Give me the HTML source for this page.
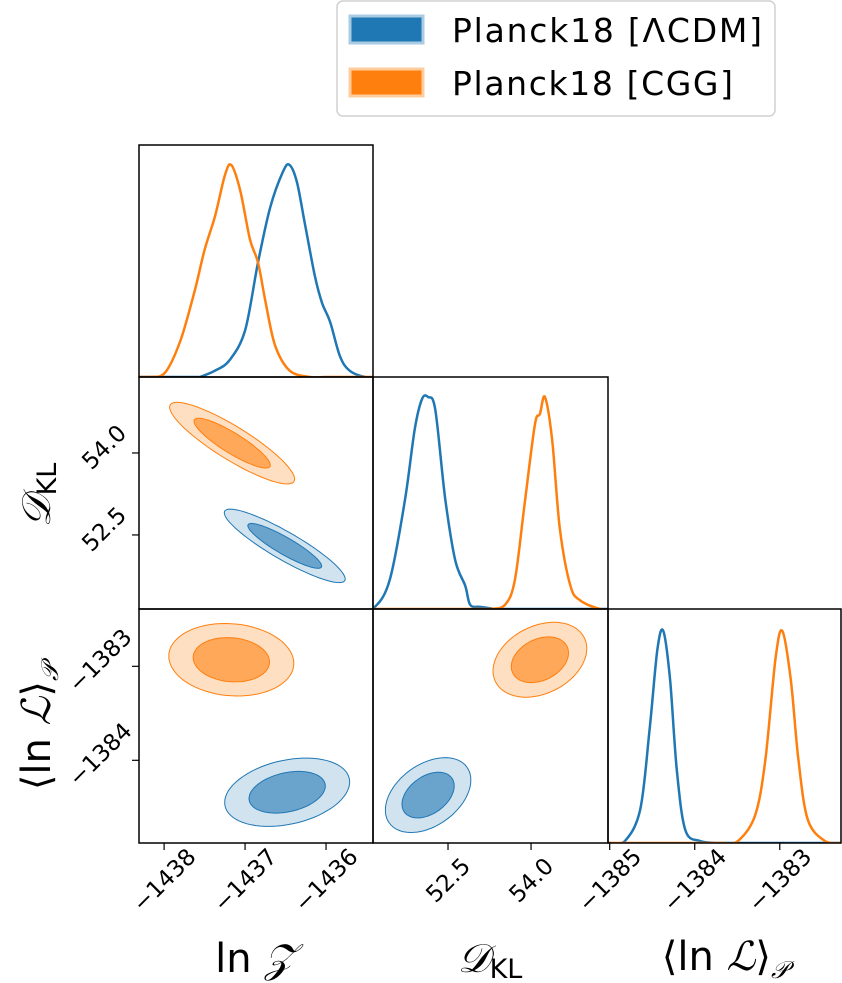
<!DOCTYPE html>
<html><head><meta charset="utf-8"><style>
html,body{margin:0;padding:0;background:#fff;}
svg{display:block;font-family:"DejaVu Sans","Liberation Sans",sans-serif;}
</style></head><body>
<svg id="fig" width="842" height="983" viewBox="0 0 842 983" xmlns="http://www.w3.org/2000/svg">
<defs>
<clipPath id="cp0"><rect x="139" y="145" width="234" height="232"/></clipPath>
<clipPath id="cp1"><rect x="373" y="377" width="235" height="232"/></clipPath>
<clipPath id="cp2"><rect x="608" y="609" width="233" height="234"/></clipPath>
</defs>
<g>
<rect x="337" y="1" width="438" height="115" rx="6" fill="#fff" stroke="#d0d0d0" stroke-width="1.5"/>
<rect x="350" y="16" width="73" height="27" fill="#1f77b4" stroke="#a9cbe4" stroke-width="3"/>
<text x="452" y="42" font-size="33" textLength="310">Planck18 [ΛCDM]</text>
<rect x="350" y="69" width="73" height="27" fill="#ff7f0e" stroke="#ffcc9e" stroke-width="3"/>
<text x="452" y="95" font-size="33" textLength="281">Planck18 [CGG]</text>
</g>
<g id="marks"></g>
<g id="frames"></g>
<g font-size="40">
<text x="255" y="972" text-anchor="middle">ln <tspan font-family="Liberation Serif,serif" font-style="italic">𝒵</tspan></text>
<text x="490" y="972" text-anchor="middle"><tspan font-family="Liberation Serif,serif" font-style="italic">𝒟</tspan><tspan font-size="27" dy="6">KL</tspan></text>
<text x="725" y="970" text-anchor="middle">⟨ln <tspan font-family="Liberation Serif,serif" font-style="italic">ℒ</tspan>⟩<tspan font-size="24" dy="8" font-style="italic">𝒫</tspan></text>
<text transform="translate(50,495) rotate(-90)" text-anchor="middle"><tspan font-family="Liberation Serif,serif" font-style="italic">𝒟</tspan><tspan font-size="27" dy="6">KL</tspan></text>
<text transform="translate(50,727) rotate(-90)" text-anchor="middle">⟨ln <tspan font-family="Liberation Serif,serif" font-style="italic">ℒ</tspan>⟩<tspan font-size="24" dy="8" font-style="italic">𝒫</tspan></text>
</g>
</svg>
<script>
// ---- data ----
const lnzBlueX=[-1437.37,-1437.19,-1437.0,-1436.84,-1436.69,-1436.53,-1436.45,-1436.36,-1436.26,-1436.14,-1436.05,-1435.95,-1435.83,-1435.71,-1435.52];
const lnzBlueY=[0.03,0.08,0.22,0.54,0.8,0.97,1.0,0.92,0.72,0.48,0.35,0.26,0.1,0.03,0];
const lnzOrX=[-1437.99,-1437.80,-1437.62,-1437.5,-1437.37,-1437.25,-1437.17,-1437.06,-1436.94,-1436.84,-1436.75,-1436.63,-1436.45,-1436.2];
const lnzOrY=[0.02,0.17,0.41,0.6,0.76,0.95,1.0,0.88,0.65,0.54,0.36,0.15,0.03,0];
const dklBlueX=[51.18,51.45,51.72,51.90,52.03,52.14,52.27,52.45,52.63,52.81,52.90,53.08];
const dklBlueY=[0.01,0.14,0.51,0.85,0.99,1.0,0.94,0.52,0.23,0.11,0.02,0.01];
const dklOrX=[53.53,53.71,53.89,54.07,54.16,54.25,54.38,54.52,54.71,54.89,55.25];
const dklOrY=[0.02,0.14,0.51,0.87,0.92,1.0,0.80,0.38,0.11,0.04,0];
const lnlBlueX=[-1384.82,-1384.64,-1384.53,-1384.44,-1384.37,-1384.29,-1384.21,-1384.11,-1383.94];
const lnlBlueY=[0.01,0.16,0.54,0.91,1.0,0.77,0.34,0.06,0.01];
const lnlOrX=[-1383.49,-1383.29,-1383.17,-1383.05,-1382.97,-1382.87,-1382.78,-1382.67,-1382.47];
const lnlOrY=[0.01,0.13,0.39,0.87,1.0,0.77,0.39,0.11,0.01];
// 2D gaussian summaries: [meanX, meanY, sigmaX, sigmaY, rho]
const zdBlue=[-1436.51,52.30,0.30,0.27,-0.9];
const zdOr=[-1437.16,54.18,0.31,0.30,-0.88];
const zlBlue=[-1436.48,-1384.34,0.31,0.146,0.3];
const zlOr=[-1437.17,-1382.93,0.31,0.155,-0.1];
const dlBlue=[52.14,-1384.37,0.31,0.16,0.4];
const dlOr=[54.16,-1382.93,0.34,0.16,0.3];
const lnzTicks=[-1438,-1437,-1436];
const dklTicks=[52.5,54.0];
const lnlTicks=[-1385,-1384,-1383];
const lnlYTicks=[-1383,-1384];

// ---- axes ----
const NS="http://www.w3.org/2000/svg";
const cols=[139,373,608,841], rows=[145,377,609,843];
const lnzR=[-1438.31,-1435.42], dklR=[51.145,55.39], lnlR=[-1385.02,-1382.28], lnlYR=[-1384.88,-1382.39];
function sx(c,r,v){return cols[c]+(v-r[0])/(r[1]-r[0])*(cols[c+1]-cols[c]);}
function sy(rw,r,v){return rows[rw+1]-(v-r[0])/(r[1]-r[0])*(rows[rw+1]-rows[rw]);}
const marks=document.getElementById('marks'), frames=document.getElementById('frames');
function mk(tag,attrs,parent){const e=document.createElementNS(NS,tag);for(const k in attrs)e.setAttribute(k,attrs[k]);parent.appendChild(e);return e;}
const BL="#1f77b4", OR="#ff7f0e";

function smoothPath(pts){
  let d="M"+pts[0][0].toFixed(1)+","+pts[0][1].toFixed(1);
  for(let i=0;i<pts.length-1;i++){
    const p0=pts[Math.max(0,i-1)],p1=pts[i],p2=pts[i+1],p3=pts[Math.min(pts.length-1,i+2)];
    const c1=[p1[0]+(p2[0]-p0[0])/6,p1[1]+(p2[1]-p0[1])/6];
    const c2=[p2[0]-(p3[0]-p1[0])/6,p2[1]-(p3[1]-p1[1])/6];
    d+=" C"+c1[0].toFixed(1)+","+c1[1].toFixed(1)+" "+c2[0].toFixed(1)+","+c2[1].toFixed(1)+" "+p2[0].toFixed(1)+","+p2[1].toFixed(1);
  }
  return d;
}
function curve1d(c,rng,xs,ys,color,name){
  const base=rows[c+1], h=212;
  const pts=[[sx(c,rng,xs[0])-15,base]];
  xs.forEach((x,i)=>pts.push([sx(c,rng,x),base-ys[i]*h]));
  pts.push([sx(c,rng,xs[xs.length-1])+15,base]);
  let d="M"+(cols[c]-5)+","+base+" L"+pts[0][0].toFixed(1)+","+base+" "+smoothPath(pts).replace(/^M/,"L")+" L"+(cols[c+1]+5)+","+base;
  const p=mk('path',{d:d,fill:"none",stroke:color,"stroke-width":2.5,"stroke-linejoin":"round","clip-path":"url(#cp"+c+")"},marks);
  
  
}
curve1d(0,lnzR,lnzBlueX,lnzBlueY,BL,'lnz-density-lcdm');
curve1d(0,lnzR,lnzOrX,lnzOrY,OR,'lnz-density-cgg');
curve1d(1,dklR,dklBlueX,dklBlueY,BL,'dkl-density-lcdm');
curve1d(1,dklR,dklOrX,dklOrY,OR,'dkl-density-cgg');
curve1d(2,lnlR,lnlBlueX,lnlBlueY,BL,'lnl-density-lcdm');
curve1d(2,lnlR,lnlOrX,lnlOrY,OR,'lnl-density-cgg');

function contour(c,rw,xr,yr,g,color,fills,name){
  const [mx,my,sxv,syv,rho]=g;
  [[2.49,fills[0]],[1.52,fills[1]]].forEach(([k,fill],j)=>{
    let d="";
    for(let i=0;i<=72;i++){
      const t=i/72*2*Math.PI;
      const u=Math.cos(t), v=rho*Math.cos(t)+Math.sqrt(1-rho*rho)*Math.sin(t);
      const X=sx(c,xr,mx+k*sxv*u), Y=sy(rw,yr,my+k*syv*v);
      d+=(i?" L":"M")+X.toFixed(1)+","+Y.toFixed(1);
    }
    const p=mk('path',{d:d+"Z",fill:fill,stroke:color,"stroke-width":1},marks);
    
    
  });
}
const bf=["#d2e3f0","#6aa3cc"], of=["#ffdfc2","#ffa85a"];
contour(0,1,lnzR,dklR,zdBlue,BL,bf,'contour-lnz-dkl-lcdm');
contour(0,1,lnzR,dklR,zdOr,OR,of,'contour-lnz-dkl-cgg');
contour(0,2,lnzR,lnlYR,zlBlue,BL,bf,'contour-lnz-lnl-lcdm');
contour(0,2,lnzR,lnlYR,zlOr,OR,of,'contour-lnz-lnl-cgg');
contour(1,2,dklR,lnlYR,dlBlue,BL,bf,'contour-dkl-lnl-lcdm');
contour(1,2,dklR,lnlYR,dlOr,OR,of,'contour-dkl-lnl-cgg');

// frames
[[0,0],[0,1],[1,1],[0,2],[1,2],[2,2]].forEach(([c,rw])=>{
  const r=mk('rect',{x:cols[c],y:rows[rw],width:cols[c+1]-cols[c],height:rows[rw+1]-rows[rw],fill:"none",stroke:"#000","stroke-width":1.5},frames);
  
  
});
function xtick(c,rng,v,label){
  const x=sx(c,rng,v);
  const l=mk('line',{x1:x,y1:843,x2:x,y2:850,stroke:"#000","stroke-width":1.2},frames);
  
  
  const t=mk('text',{x:0,y:8,"font-size":23,"text-anchor":"middle",transform:"translate("+(x)+",880) rotate(-45)"},frames);
  t.textContent=label;
  
  
}
function ytick(rw,rng,v,label){
  const y=sy(rw,rng,v);
  const l=mk('line',{x1:132,y1:y,x2:139,y2:y,stroke:"#000","stroke-width":1.2},frames);
  
  
  const t=mk('text',{x:0,y:8,"font-size":23,"text-anchor":"middle",transform:"translate("+(label.length>4?100:104)+","+(y-6)+") rotate(-45)"},frames);
  t.textContent=label;
  
  
}
const fmt=v=>(v<0?"\u2212"+Math.abs(v):String(v));
lnzTicks.forEach(v=>xtick(0,lnzR,v,fmt(v)));
dklTicks.forEach(v=>xtick(1,dklR,v,v.toFixed(1)));
lnlTicks.forEach(v=>xtick(2,lnlR,v,fmt(v)));
dklTicks.forEach(v=>ytick(1,dklR,v,v.toFixed(1)));
lnlYTicks.forEach(v=>ytick(2,lnlYR,v,fmt(v)));
</script>
</body></html>
